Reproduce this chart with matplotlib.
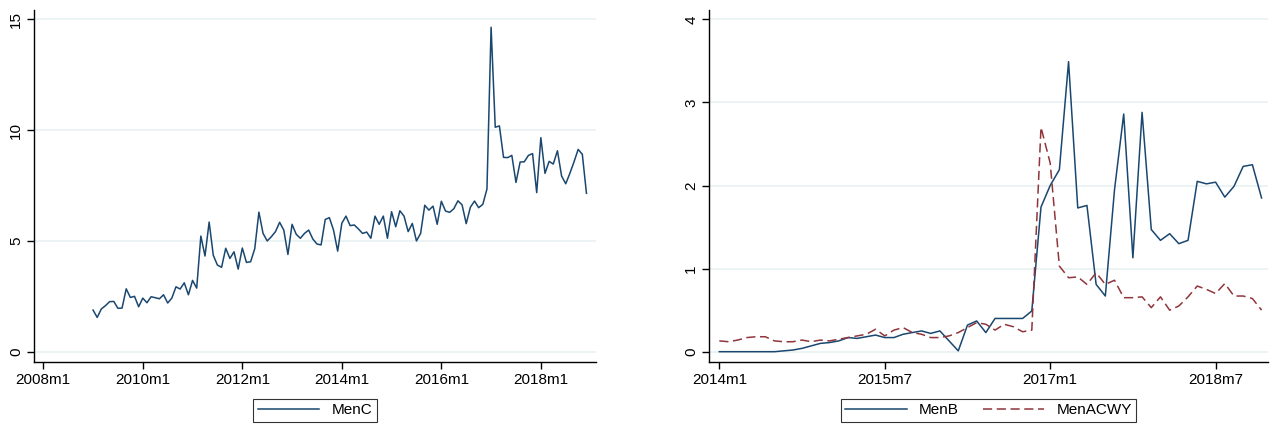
import numpy as np
import matplotlib
matplotlib.use("Agg")
import matplotlib.pyplot as plt
from matplotlib.ticker import FuncFormatter

plt.rcParams['font.family'] = ['Liberation Sans', 'DejaVu Sans']

# monthly rates, 2009m1 - 2018m12
menc = [1.88, 1.55, 1.93, 2.08, 2.26, 2.27, 1.96, 1.97, 2.84, 2.45,
        2.50, 2.03, 2.42, 2.21, 2.48, 2.44, 2.39, 2.57, 2.20, 2.42,
        2.93, 2.83, 3.11, 2.57, 3.22, 2.87, 5.22, 4.32, 5.85, 4.35,
        3.91, 3.81, 4.67, 4.21, 4.51, 3.73, 4.68, 4.03, 4.06, 4.65,
        6.30, 5.34, 5.00, 5.19, 5.42, 5.84, 5.49, 4.39, 5.75, 5.30,
        5.12, 5.34, 5.49, 5.09, 4.86, 4.82, 5.97, 6.05, 5.49, 4.54,
        5.80, 6.12, 5.69, 5.72, 5.54, 5.34, 5.40, 5.12, 6.12, 5.75,
        6.12, 5.12, 6.32, 5.64, 6.36, 6.12, 5.42, 5.79, 5.00, 5.34,
        6.61, 6.39, 6.57, 5.75, 6.79, 6.35, 6.29, 6.45, 6.81, 6.63,
        5.78, 6.52, 6.80, 6.50, 6.65, 7.34, 14.64, 10.13, 10.19, 8.77,
        8.76, 8.86, 7.64, 8.56, 8.57, 8.86, 8.94, 7.18, 9.66, 8.05,
        8.59, 8.47, 9.07, 7.93, 7.58, 8.05, 8.57, 9.13, 8.91, 7.15]

# monthly rates, 2014m1 - 2018m12
menb = [0.00, 0.00, 0.00, 0.00, 0.00, 0.00, 0.00, 0.01, 0.02, 0.04,
        0.07, 0.10, 0.11, 0.13, 0.17, 0.16, 0.18, 0.20, 0.17, 0.17,
        0.21, 0.23, 0.25, 0.22, 0.25, 0.13, 0.01, 0.32, 0.37, 0.23,
        0.40, 0.40, 0.40, 0.40, 0.49, 1.74, 2.00, 2.19, 3.49, 1.73,
        1.76, 0.81, 0.67, 1.95, 2.86, 1.13, 2.88, 1.47, 1.34, 1.42,
        1.30, 1.34, 2.05, 2.02, 2.04, 1.86, 1.99, 2.23, 2.25, 1.85]
menacwy = [0.13, 0.12, 0.14, 0.17, 0.18, 0.18, 0.13, 0.12, 0.12, 0.14,
           0.12, 0.14, 0.13, 0.15, 0.17, 0.19, 0.21, 0.27, 0.19, 0.26,
           0.29, 0.23, 0.21, 0.17, 0.17, 0.19, 0.23, 0.29, 0.35, 0.33,
           0.26, 0.33, 0.30, 0.24, 0.26, 2.70, 2.27, 1.03, 0.89, 0.90,
           0.81, 0.95, 0.81, 0.86, 0.65, 0.65, 0.66, 0.53, 0.66, 0.50,
           0.55, 0.66, 0.79, 0.75, 0.70, 0.82, 0.67, 0.67, 0.64, 0.50]


def tm(year, month):
    # Stata-style monthly date: months since 1960m1
    return (year - 1960) * 12 + month - 1


def tm_label(v, pos):
    v = int(round(v))
    return f"{1960 + v // 12}m{v % 12 + 1}"


t_left = tm(2009, 1) + np.arange(len(menc))
t_right = tm(2014, 1) + np.arange(len(menb))

navy = '#1a476f'
maroon = '#90353b'
grid_col = '#eaf2f3'

fig = plt.figure(figsize=(12.72, 4.24), dpi=100)
ax1 = fig.add_axes([34 / 1272, 62.5 / 424, 562 / 1272, 351.5 / 424])
ax2 = fig.add_axes([709.3 / 1272, 62.5 / 424, 558.7 / 1272, 351.5 / 424])


def style(ax):
    for s in ['top', 'right']:
        ax.spines[s].set_visible(False)
    for s in ['left', 'bottom']:
        ax.spines[s].set_linewidth(1.0)
    ax.yaxis.grid(True, color=grid_col, linewidth=1.3)
    ax.set_axisbelow(True)
    ax.tick_params(direction='out', length=5, width=1.0, labelsize=11, pad=3)
    ax.tick_params(axis='y', labelrotation=90)
    for lab in ax.get_yticklabels():
        lab.set_va('center')
    ax.xaxis.set_major_formatter(FuncFormatter(tm_label))


def add_legend(ax, ncol):
    leg = ax.legend(loc='upper center', bbox_to_anchor=(0.5, -0.106), ncol=ncol,
                    frameon=True, fancybox=False, edgecolor='black', fontsize=11,
                    handlelength=4.0, borderpad=0.3, borderaxespad=0.0,
                    handletextpad=0.8, columnspacing=1.6)
    leg.get_frame().set_linewidth(0.8)
    return leg


ax1.plot(t_left, menc, color=navy, linewidth=1.1, label='MenC')
ax1.set_xlim(tm(2008, 1) - 2.24, tm(2008, 1) + 133.3)
ax1.set_ylim(-0.44, 15.42)
ax1.set_yticks([0, 5, 10, 15])
ax1.set_xticks([tm(y, 1) for y in range(2008, 2019, 2)])
style(ax1)
add_legend(ax1, 1)

ax2.plot(t_right, menb, color=navy, linewidth=1.1, label='MenB')
ax2.plot(t_right, menacwy, color=maroon, linewidth=1.1, dashes=(6, 3), label='MenACWY')
ax2.set_xlim(tm(2014, 1) - 1.09, tm(2014, 1) + 59.7)
ax2.set_ylim(-0.118, 4.112)
ax2.set_yticks([0, 1, 2, 3, 4])
ax2.set_xticks([tm(2014, 1), tm(2015, 7), tm(2017, 1), tm(2018, 7)])
style(ax2)
add_legend(ax2, 2)

fig.savefig('out.png', dpi=100)
